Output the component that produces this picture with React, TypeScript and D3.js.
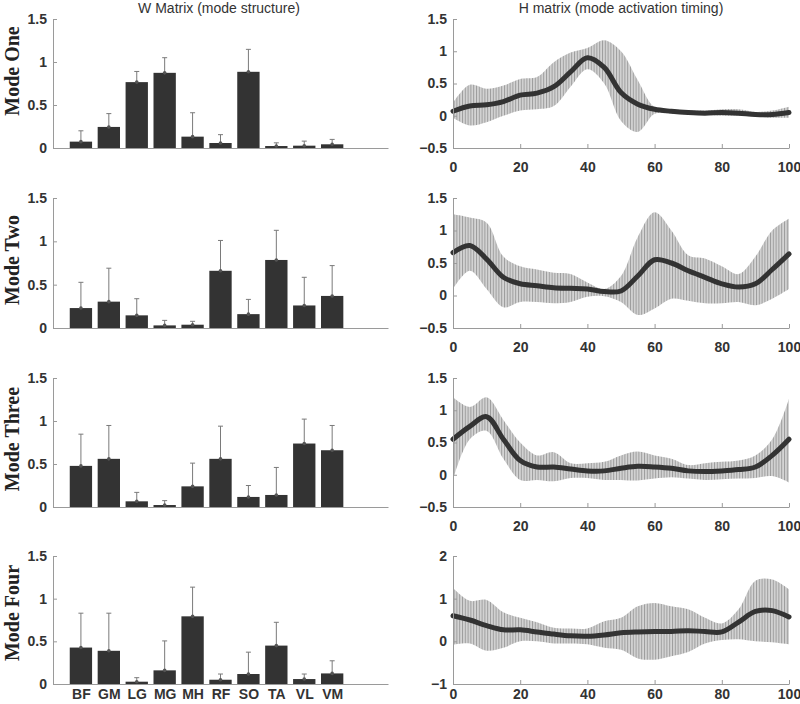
import React, { useEffect, useRef } from 'react';
import * as d3 from 'd3';

// muscles on the W bars, mode names on the rows
const muscles = ['BF', 'GM', 'LG', 'MG', 'MH', 'RF', 'SO', 'TA', 'VL', 'VM'];
const modeNames = ['Mode One', 'Mode Two', 'Mode Three', 'Mode Four'];

// W matrix: bar height (mean) and top of the error whisker (mean + sd)
const wMeanOne = [0.074, 0.245, 0.766, 0.874, 0.132, 0.058, 0.886, 0.023, 0.027, 0.043];
const wTopOne = [0.2, 0.4, 0.89, 1.05, 0.41, 0.155, 1.147, 0.06, 0.08, 0.1];
const wMeanTwo = [0.23, 0.304, 0.146, 0.03, 0.038, 0.66, 0.16, 0.785, 0.26, 0.37];
const wTopTwo = [0.527, 0.69, 0.338, 0.088, 0.077, 1.01, 0.33, 1.127, 0.585, 0.72];
const wMeanThree = [0.478, 0.56, 0.066, 0.023, 0.24, 0.56, 0.117, 0.14, 0.738, 0.66];
const wTopThree = [0.847, 0.948, 0.17, 0.074, 0.51, 0.94, 0.25, 0.46, 1.022, 0.948];
const wMeanFour = [0.427, 0.389, 0.027, 0.16, 0.793, 0.05, 0.117, 0.45, 0.058, 0.124];
const wTopFour = [0.83, 0.83, 0.074, 0.505, 1.135, 0.117, 0.373, 0.723, 0.117, 0.272];

// H matrix: % of cycle, mean activation and the band around it
const timePoints = [0, 5, 10, 15, 20, 25, 30, 35, 40, 45, 50, 55, 60, 65, 70, 75, 80, 85, 90, 95, 100];
const hMeanOne = [0.07, 0.15, 0.17, 0.22, 0.32, 0.35, 0.45, 0.68, 0.9, 0.75, 0.36, 0.18, 0.1, 0.07, 0.05, 0.04, 0.05, 0.04, 0.02, 0.02, 0.05];
const hUpperOne = [0.2, 0.48, 0.42, 0.47, 0.57, 0.6, 0.83, 0.98, 1.05, 1.17, 1.0, 0.55, 0.13, 0.1, 0.08, 0.08, 0.1, 0.1, 0.06, 0.08, 0.14];
const hLowerOne = [-0.03, -0.15, -0.1, 0.0, 0.08, 0.1, 0.15, 0.45, 0.72, 0.5, -0.08, -0.25, 0.03, 0.03, 0.02, 0.01, 0.0, 0.0, -0.01, -0.03, -0.03];
const hMeanTwo = [0.66, 0.77, 0.56, 0.28, 0.18, 0.15, 0.12, 0.11, 0.1, 0.06, 0.07, 0.3, 0.55, 0.5, 0.38, 0.28, 0.18, 0.13, 0.18, 0.4, 0.64];
const hUpperTwo = [1.25, 1.2, 1.12, 0.6, 0.45, 0.4, 0.35, 0.33, 0.2, 0.1, 0.3, 0.9, 1.28, 1.0, 0.62, 0.57, 0.45, 0.33, 0.6, 1.0, 1.18];
const hLowerTwo = [0.1, 0.38, 0.1, -0.18, -0.1, -0.1, -0.12, -0.1, -0.02, -0.01, -0.1, -0.3, -0.2, -0.05, -0.08, -0.12, -0.12, -0.1, -0.15, -0.05, 0.1];
const hMeanThree = [0.55, 0.75, 0.9, 0.55, 0.22, 0.12, 0.12, 0.09, 0.06, 0.06, 0.1, 0.13, 0.12, 0.1, 0.06, 0.05, 0.06, 0.08, 0.12, 0.3, 0.55];
const hUpperThree = [1.2, 1.05, 1.2, 0.85, 0.5, 0.3, 0.35, 0.18, 0.18, 0.2, 0.3, 0.36, 0.3, 0.25, 0.15, 0.18, 0.2, 0.22, 0.3, 0.55, 1.18];
const hLowerThree = [-0.08, 0.55, 0.68, 0.25, -0.08, -0.08, -0.1, -0.05, -0.05, -0.08, -0.08, -0.09, -0.06, -0.04, -0.06, -0.08, -0.07, -0.06, -0.05, -0.02, -0.12];
const hMeanFour = [0.6, 0.5, 0.37, 0.27, 0.27, 0.22, 0.17, 0.13, 0.12, 0.15, 0.2, 0.22, 0.23, 0.23, 0.25, 0.23, 0.22, 0.45, 0.7, 0.72, 0.57];
const hUpperFour = [1.25, 0.95, 0.97, 0.68, 0.55, 0.45, 0.32, 0.3, 0.3, 0.47, 0.55, 0.82, 0.9, 0.82, 0.75, 0.55, 0.42, 0.75, 1.42, 1.45, 1.22];
const hLowerFour = [-0.08, -0.05, -0.22, -0.15, 0.0, 0.0, -0.05, -0.05, -0.07, -0.15, -0.2, -0.4, -0.43, -0.35, -0.25, -0.05, 0.03, 0.05, 0.0, -0.02, -0.07];

// y ranges / ticks of the H panels
const hDomains = [[-0.5, 1.5], [-0.5, 1.5], [-0.5, 1.5], [-1, 2]];
const hTicks = [[-0.5, 0, 0.5, 1, 1.5], [-0.5, 0, 0.5, 1, 1.5], [-0.5, 0, 0.5, 1, 1.5], [-1, 0, 1, 2]];
const wTicks = [0, 0.5, 1, 1.5];
const timeTicks = [0, 20, 40, 60, 80, 100];

const wMeans = [wMeanOne, wMeanTwo, wMeanThree, wMeanFour];
const wTops = [wTopOne, wTopTwo, wTopThree, wTopFour];
const hMeans = [hMeanOne, hMeanTwo, hMeanThree, hMeanFour];
const hUppers = [hUpperOne, hUpperTwo, hUpperThree, hUpperFour];
const hLowers = [hLowerOne, hLowerTwo, hLowerThree, hLowerFour];

const App = () => {
  const svgRef = useRef<SVGSVGElement>(null);

  useEffect(() => {
    const svg = d3.select(svgRef.current);
    svg.selectAll('*').remove();

    const W = 800;
    const H = 704;
    svg.attr('width', W).attr('height', H);

    const font = 'Arial, "Liberation Sans", sans-serif';
    const axisColor = '#9a9a9a';
    const textColor = '#333';

    // hatched fill for the bands
    const defs = svg.append('defs');
    const pat = defs.append('pattern')
      .attr('id', 'hatch')
      .attr('patternUnits', 'userSpaceOnUse')
      .attr('width', 2.8)
      .attr('height', 10);
    pat.append('rect').attr('width', 2.8).attr('height', 10).attr('fill', '#d4d4d4');
    pat.append('line')
      .attr('x1', 0.5).attr('x2', 0.5).attr('y1', 0).attr('y2', 10)
      .attr('stroke', '#9c9c9c').attr('stroke-width', 1);

    // panel rows (top and bottom pixel of the plot area)
    const rows = [[19, 148], [198, 328], [378, 507], [556, 684]];
    const labelCenters = [71, 260, 439, 613];

    const xBar = d3.scaleLinear().domain([0, 12]).range([53, 388]);
    const xTime = d3.scaleLinear().domain([0, 100]).range([453, 789]);
    const barW = xBar(0.8) - xBar(0);

    const styleAxis = (g: any) => {
      g.select('.domain').attr('stroke', axisColor);
      g.selectAll('.tick line').attr('stroke', axisColor);
      g.selectAll('text')
        .attr('fill', textColor)
        .style('font-family', font)
        .style('font-weight', 'bold')
        .style('font-size', '14px');
    };

    // column titles
    svg.append('text')
      .attr('x', 219).attr('y', 13)
      .attr('text-anchor', 'middle')
      .style('font-family', font).style('font-size', '14px')
      .attr('fill', textColor)
      .text('W Matrix (mode structure)');
    svg.append('text')
      .attr('x', 621).attr('y', 13)
      .attr('text-anchor', 'middle')
      .style('font-family', font).style('font-size', '14px')
      .attr('fill', textColor)
      .text('H matrix (mode activation timing)');

    rows.forEach(([top, bottom], i) => {
      const last = i === rows.length - 1;

      // ---- W bars ----
      const yW = d3.scaleLinear().domain([0, 1.5]).range([bottom, top]);
      const g = svg.append('g');

      const yAxis = g.append('g')
        .attr('transform', `translate(${xBar(0)},0)`)
        .call(d3.axisLeft(yW).tickValues(wTicks).tickFormat(d3.format('')).tickSizeInner(-4).tickSizeOuter(0).tickPadding(6));
      styleAxis(yAxis);

      const xAxis = g.append('g')
        .attr('transform', `translate(0,${bottom})`)
        .call(d3.axisBottom(xBar).tickValues(last ? d3.range(1, 11) : []).tickFormat((d: any) => muscles[d - 1]).tickSize(0).tickPadding(5));
      styleAxis(xAxis);

      const bars = muscles.map((m, k) => ({ k: k + 1, mean: wMeans[i][k], top: wTops[i][k] }));

      g.selectAll('rect.bar')
        .data(bars)
        .join('rect')
        .attr('class', 'bar')
        .attr('x', d => xBar(d.k) - barW / 2)
        .attr('width', barW)
        .attr('y', d => yW(d.mean))
        .attr('height', d => yW(0) - yW(d.mean))
        .attr('fill', '#333');

      g.selectAll('line.err')
        .data(bars)
        .join('line')
        .attr('class', 'err')
        .attr('x1', d => xBar(d.k)).attr('x2', d => xBar(d.k))
        .attr('y1', d => yW(d.mean)).attr('y2', d => yW(d.top))
        .attr('stroke', '#7a7a7a').attr('stroke-width', 1);

      g.selectAll('line.cap')
        .data(bars)
        .join('line')
        .attr('class', 'cap')
        .attr('x1', d => xBar(d.k) - 2.5).attr('x2', d => xBar(d.k) + 2.5)
        .attr('y1', d => yW(d.top)).attr('y2', d => yW(d.top))
        .attr('stroke', '#7a7a7a').attr('stroke-width', 1);

      g.selectAll('circle.dot')
        .data(bars)
        .join('circle')
        .attr('class', 'dot')
        .attr('cx', d => xBar(d.k))
        .attr('cy', d => yW(d.mean))
        .attr('r', 1.8)
        .attr('fill', '#555');

      // row label
      svg.append('text')
        .attr('transform', `translate(12,${labelCenters[i]}) rotate(-90)`)
        .attr('text-anchor', 'middle')
        .attr('dy', '0.35em')
        .style('font-family', '"Times New Roman", "Liberation Serif", serif')
        .style('font-weight', 'bold')
        .style('font-size', '20px')
        .attr('fill', '#222')
        .text(modeNames[i]);

      // ---- H timing ----
      const yH = d3.scaleLinear().domain(hDomains[i]).range([bottom, top]);
      const pts = timePoints.map((t, k) => ({ t, mean: hMeans[i][k], up: hUppers[i][k], lo: hLowers[i][k] }));

      const area = d3.area<any>()
        .x(d => xTime(d.t))
        .y0(d => yH(d.lo))
        .y1(d => yH(d.up))
        .curve(d3.curveCatmullRom.alpha(0.5));

      const line = d3.line<any>()
        .x(d => xTime(d.t))
        .y(d => yH(d.mean))
        .curve(d3.curveCatmullRom.alpha(0.5));

      const gh = svg.append('g');

      gh.append('path')
        .datum(pts)
        .attr('d', area)
        .attr('fill', 'url(#hatch)');

      gh.append('path')
        .datum(pts)
        .attr('d', line)
        .attr('fill', 'none')
        .attr('stroke', '#333')
        .attr('stroke-width', 5)
        .attr('stroke-linecap', 'round');

      const hy = gh.append('g')
        .attr('transform', `translate(${xTime(0)},0)`)
        .call(d3.axisLeft(yH).tickValues(hTicks[i]).tickFormat(d3.format('')).tickSizeInner(-4).tickSizeOuter(0).tickPadding(6));
      styleAxis(hy);

      const hx = gh.append('g')
        .attr('transform', `translate(0,${bottom})`)
        .call(d3.axisBottom(xTime).tickValues(timeTicks).tickSizeInner(-4).tickSizeOuter(0).tickPadding(last ? 5 : 14));
      styleAxis(hx);
    });
  }, []);

  return <svg ref={svgRef} style={{ position: 'absolute', left: 0, top: 0, background: '#fff' }}></svg>;
};

export default App;
